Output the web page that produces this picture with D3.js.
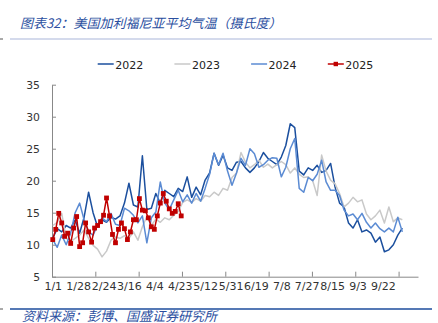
<!DOCTYPE html>
<html><head><meta charset="utf-8">
<script src="https://cdn.jsdelivr.net/npm/d3@7/dist/d3.min.js"></script>
<style>
html,body{margin:0;padding:0;background:#fff;}
svg{display:block;}
</style></head>
<body>
<script>
// ---- data ----
const titleText = "图表32：美国加利福尼亚平均气温（摄氏度）";
const sourceText = "资料来源：彭博、国盛证券研究所";
const seriesNames = ["2022", "2023", "2024", "2025"];
const xLabels = ["1/1","1/28","2/24","3/16","4/4","4/23","5/12","5/31","6/19","7/8","7/27","8/15","9/3","9/22"];
const yTicks = [5, 10, 15, 20, 25, 30, 35];
const categoryCount = 245;   // category slots on the x axis
const labelEvery = 17;       // categories between tick labels
const tickEvery = 29;        // categories between tick marks
const stepPast = 3;          // categories between samples, 2022-2024
const step2025 = 2;          // categories between samples, 2025

const t2022 = [11.0,12.5,12.0,13.0,12.6,13.9,11.8,14.3,18.2,15.0,
  12.8,13.9,13.5,14.3,14.0,14.5,16.5,19.6,16.2,15.9,
  23.9,15.5,15.7,18.0,16.5,18.5,18.0,17.5,18.8,18.3,
  20.6,17.4,19.0,17.8,20.1,21.2,24.3,22.4,24.0,22.0,
  21.6,22.9,23.0,22.0,21.3,22.0,23.0,24.4,23.5,23.0,
  22.5,23.7,25.5,28.9,28.3,21.5,20.9,22.0,21.6,22.4,
  21.3,21.6,22.7,19.0,16.5,15.9,13.4,12.6,13.9,12.0,
  12.3,11.8,10.4,11.2,8.9,9.2,10.0,11.5,12.6];
const t2023 = [13.0,13.5,14.9,11.0,10.5,11.0,11.5,12.3,11.0,9.9,
  9.3,8.1,9.0,10.7,11.2,11.0,11.4,11.0,12.0,10.7,
  12.8,14.4,13.0,14.0,13.5,14.2,13.9,14.6,15.2,16.6,
  17.0,16.6,17.2,16.8,17.7,17.5,18.2,17.7,18.8,18.5,
  20.5,21.2,24.4,22.9,22.0,22.5,23.2,22.1,22.6,22.0,
  22.5,23.0,22.5,21.2,22.0,21.0,20.5,20.6,20.0,17.7,
  24.0,21.5,20.1,19.5,18.0,15.9,16.5,17.4,16.7,17.0,
  14.8,13.9,14.5,15.4,13.4,15.9,13.6,14.2,13.9];
const t2024 = [10.8,9.6,11.5,10.0,11.8,15.0,16.5,13.9,12.0,11.5,
  13.1,14.2,13.6,14.9,13.2,13.0,15.7,15.3,14.6,13.4,
  14.5,10.3,14.2,15.1,19.8,16.5,15.5,17.0,18.5,16.7,
  17.8,16.5,18.0,16.8,18.8,21.0,24.3,22.5,24.3,21.5,
  19.3,21.2,23.5,22.4,25.0,24.2,22.1,22.5,23.2,23.6,
  23.5,20.6,22.1,25.0,26.6,18.8,18.2,20.5,20.0,21.0,
  23.2,19.8,18.5,18.5,17.7,15.4,14.5,14.8,13.9,14.9,
  13.5,12.6,13.4,12.5,12.0,12.6,12.0,14.3,12.0];
const t2025 = [10.8,12.4,14.9,13.4,11.3,11.8,10.2,12.6,14.4,9.7,
  10.3,13.4,12.0,10.4,12.6,13.0,13.6,14.6,17.3,14.5,
  11.6,10.3,12.4,13.4,12.5,10.8,12.0,13.9,13.9,17.2,
  15.4,15.3,14.2,12.8,12.4,14.5,16.5,18.0,16.8,15.6,
  14.9,15.2,16.4,14.5];

// ---- drawing ----
const W = 438, H = 323;
const colors = {"2022": "#1b4f9e", "2023": "#c9c9c9", "2024": "#5b8bd3", "2025": "#c00000"};
const seriesData = [
  {name: "2022", values: t2022, step: stepPast},
  {name: "2023", values: t2023, step: stepPast},
  {name: "2024", values: t2024, step: stepPast},
  {name: "2025", values: t2025, step: step2025, markers: true}
];

const svg = d3.select("body").append("svg").attr("width", W).attr("height", H);
const font = "'DejaVu Sans', Verdana, sans-serif";
const cjk = "'Noto Sans CJK SC', sans-serif";
const blueText = "#2b4f9f";

// title
svg.append("text").attr("x", 20).attr("y", 27.5)
  .attr("font-family", cjk).attr("font-size", 13).attr("font-style", "italic")
  .attr("fill", blueText).text(titleText);
svg.append("line").attr("x1", 10).attr("x2", 432).attr("y1", 39).attr("y2", 39)
  .attr("stroke", "#a9b5da").attr("stroke-width", 1.2);
svg.append("line").attr("x1", 0).attr("x2", 3).attr("y1", 39).attr("y2", 39)
  .attr("stroke", "#555").attr("stroke-width", 1);

// source
svg.append("line").attr("x1", 10).attr("x2", 432).attr("y1", 309).attr("y2", 309)
  .attr("stroke", "#1d4d9c").attr("stroke-width", 1.6);
svg.append("line").attr("x1", 0).attr("x2", 3).attr("y1", 309).attr("y2", 309)
  .attr("stroke", "#555").attr("stroke-width", 1);
svg.append("text").attr("x", 22).attr("y", 320.5)
  .attr("font-family", cjk).attr("font-size", 13).attr("font-style", "italic")
  .attr("fill", blueText).text(sourceText);

// scales
const x = d3.scaleLinear().domain([0, categoryCount]).range([52, 418]);
const y = d3.scaleLinear().domain([5, 35]).range([276.7, 84.7]);

// y axis
const yAxis = svg.append("g").attr("transform", "translate(52,0)")
  .call(d3.axisLeft(y).tickValues(yTicks).tickSizeInner(-4).tickSizeOuter(0).tickPadding(12));
yAxis.selectAll("text").attr("font-family", font).attr("font-size", 10.8).attr("fill", "#333");
yAxis.selectAll("line, path").attr("stroke", "#888");

// x axis: tick marks
const tickIdx = d3.range(0, categoryCount + 1, tickEvery);
const xTicks = svg.append("g").attr("transform", "translate(0,276.7)")
  .call(d3.axisBottom(x).tickValues(tickIdx).tickSizeInner(-5).tickSizeOuter(0).tickFormat(""));
xTicks.selectAll("line, path").attr("stroke", "#888");
// x axis: labels
const labelIdx = xLabels.map((d, i) => i * labelEvery + 0.5);
const xLab = svg.append("g").attr("transform", "translate(0,276.7)")
  .call(d3.axisBottom(x).tickValues(labelIdx).tickSize(0).tickPadding(6)
    .tickFormat((d, i) => xLabels[i]));
xLab.select("path").remove();
xLab.selectAll("text").attr("font-family", font).attr("font-size", 11).attr("fill", "#333");

// series
const line = d3.line().x(d => x(d.i + 0.5)).y(d => y(d.v));
seriesData.forEach(s => {
  const pts = s.values.map((v, k) => ({i: k * s.step, v}));
  svg.append("path").datum(pts).attr("d", line)
    .attr("fill", "none").attr("stroke", colors[s.name])
    .attr("stroke-width", 1.5).attr("stroke-linejoin", "round");
  if (s.markers) {
    svg.append("g").selectAll("rect").data(pts).join("rect")
      .attr("x", d => x(d.i + 0.5) - 2.4).attr("y", d => y(d.v) - 2.4)
      .attr("width", 4.8).attr("height", 4.8).attr("fill", colors[s.name]);
  }
});

// legend
const legend = svg.append("g").attr("transform", "translate(97.7,64)");
seriesNames.forEach((name, i) => {
  const g = legend.append("g").attr("transform", `translate(${i * 76.7},0)`);
  g.append("line").attr("x1", 0).attr("x2", 16).attr("y1", 0).attr("y2", 0)
    .attr("stroke", colors[name]).attr("stroke-width", 1.5);
  if (name === "2025") {
    g.append("rect").attr("x", 5.8).attr("y", -2.2).attr("width", 4.4).attr("height", 4.4)
      .attr("fill", colors[name]);
  }
  g.append("text").attr("x", 17.5).attr("y", 4.5)
    .attr("font-family", font).attr("font-size", 11).attr("fill", "#222").text(name);
});
</script>
</body></html>
